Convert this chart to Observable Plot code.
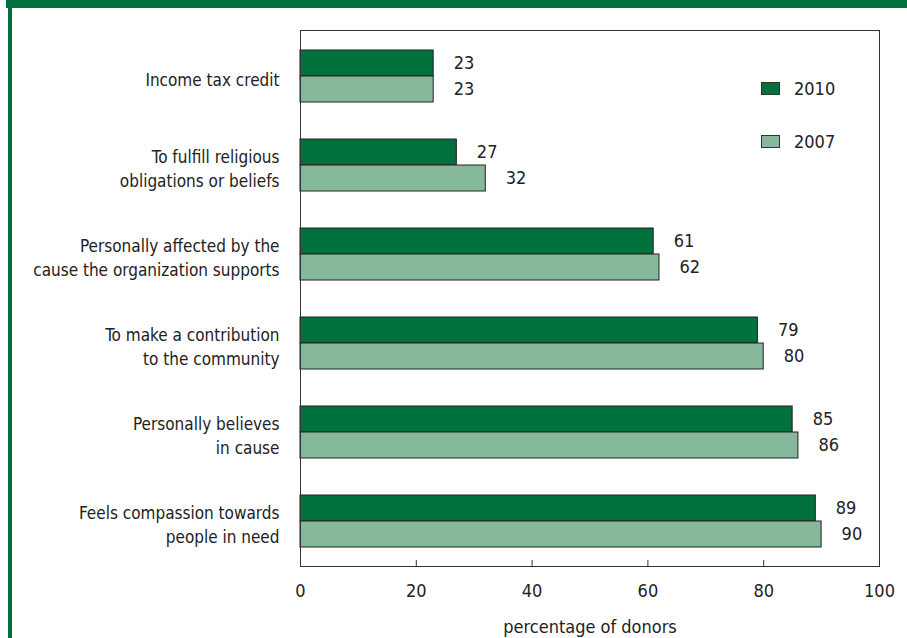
<!DOCTYPE html>
<html>
<head>
<meta charset="utf-8">
<script src="https://cdn.jsdelivr.net/npm/d3@7"></script>
<script src="https://cdn.jsdelivr.net/npm/@observablehq/plot@0.6"></script>
<style>
  html, body { margin: 0; padding: 0; background: #fff; }
  #wrap { position: relative; width: 907px; height: 638px; overflow: hidden;
          font-family: "DejaVu Sans", sans-serif; font-stretch: condensed; color: #222; }
  #wrap svg, #wrap svg text { font-stretch: condensed; }
  #topbar { position: absolute; left: 6px; top: 0; width: 901px; height: 8px; background: #00703c; }
  #leftbar { position: absolute; left: 8px; top: 0; width: 4px; height: 638px; background: #00703c; }
  #chart { position: absolute; left: 0; top: 0; }
  .legend { position: absolute; left: 761px; font-size: 18px; display: flex; align-items: center; }
  .legend .sw { width: 17px; height: 11px; border: 1px solid #333; margin-right: 14px; }
</style>
</head>
<body>
<div id="wrap">
  <div id="topbar"></div>
  <div id="leftbar"></div>
  <div id="chart"></div>
</div>
<script>
const categories = [
  "Income tax credit",
  "To fulfill religious obligations or beliefs",
  "Personally affected by the cause the organization supports",
  "To make a contribution to the community",
  "Personally believes in cause",
  "Feels compassion towards people in need"
];
const categoryLabels = [
  "Income tax credit",
  "To fulfill religious\nobligations or beliefs",
  "Personally affected by the\ncause the organization supports",
  "To make a contribution\nto the community",
  "Personally believes\nin cause",
  "Feels compassion towards\npeople in need"
];
const years = ["2010", "2007"];
const values2010 = [23, 27, 61, 79, 85, 89];
const values2007 = [23, 32, 62, 80, 86, 90];
const xTicks = [0, 20, 40, 60, 80, 100];
const xLabel = "percentage of donors";
const colors = { "2010": "#00703c", "2007": "#86b89c" };

const d2010 = categories.map((c, i) => ({ cat: c, year: "2010", v: values2010[i] }));
const d2007 = categories.map((c, i) => ({ cat: c, year: "2007", v: values2007[i] }));
const labelOf = new Map(categories.map((c, i) => [c, categoryLabels[i]]));

const font = '"DejaVu Sans", sans-serif';

const chart = Plot.plot({
  width: 907,
  height: 638,
  marginLeft: 300,
  marginRight: 28,
  marginTop: 30,
  marginBottom: 72,
  style: { fontFamily: font, fontSize: "17px", color: "#222", background: "transparent", overflow: "visible" },
  x: { domain: [0, 100] },
  y: { domain: categories, paddingInner: 0.418, paddingOuter: 0.209 },
  marks: [
    Plot.barX(d2010, { x: "v", y: "cat", fill: colors["2010"], stroke: "#222", strokeWidth: 1, insetBottom: 26 }),
    Plot.barX(d2007, { x: "v", y: "cat", fill: colors["2007"], stroke: "#222", strokeWidth: 1, insetTop: 26 }),
    Plot.text(d2010, { x: "v", y: "cat", text: d => String(d.v), dx: 20, dy: -13, textAnchor: "start", fontSize: 18, fill: "#222" }),
    Plot.text(d2007, { x: "v", y: "cat", text: d => String(d.v), dx: 20, dy: 13, textAnchor: "start", fontSize: 18, fill: "#222" }),
    Plot.frame({ stroke: "#333" }),
    Plot.axisX({ ticks: xTicks, tickSize: -6, tickPadding: 24, fontSize: 18, stroke: "#333",
                 label: xLabel, labelArrow: false, labelAnchor: "center", labelOffset: 66 }),
    Plot.axisY({ tickSize: 0, tickPadding: 21, tickFormat: d => labelOf.get(d), fontSize: 17, lineHeight: 1.4, dy: 2, label: null })
  ]
});
document.getElementById("chart").appendChild(chart);

// legend
const wrap = document.getElementById("wrap");
const legendTops = [78, 131];
years.forEach((y, i) => {
  const el = document.createElement("div");
  el.className = "legend";
  el.style.top = legendTops[i] + "px";
  el.innerHTML = `<span class="sw" style="background:${colors[y]}"></span><span>${y}</span>`;
  wrap.appendChild(el);
});
</script>
</body>
</html>
